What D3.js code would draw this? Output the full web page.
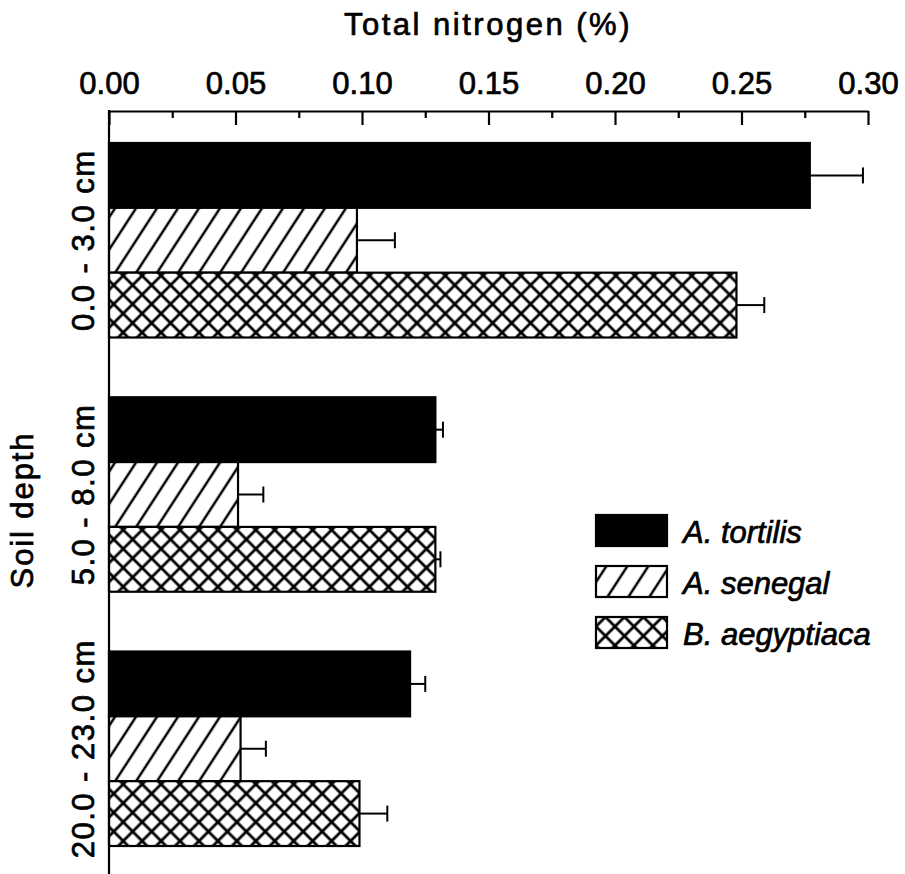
<!DOCTYPE html>
<head>
  <meta charset="utf-8">
  <script src="https://cdn.jsdelivr.net/npm/d3@7"></script>
  <style>
    body { margin: 0; background: #fff; }
    text { font-family: "Liberation Sans", Arial, sans-serif; fill: #000; stroke: #000; stroke-width: 0.7px; }
  </style>
</head>
<body>
<script>

var depths = ["0.0 - 3.0 cm", "5.0 - 8.0 cm", "20.0 - 23.0 cm"]
var species = ["A. tortilis", "A. senegal", "B. aegyptiaca"]
// mean total N (%) per depth, one array per species
var tortilis = [0.277, 0.129, 0.119]
var senegal = [0.098, 0.051, 0.052]
var aegyptiaca = [0.248, 0.129, 0.099]
// standard errors
var tortilisErr = [0.021, 0.003, 0.006]
var senegalErr = [0.015, 0.010, 0.010]
var aegyptiacaErr = [0.011, 0.002, 0.011]
var majorTicks = [0, 0.05, 0.10, 0.15, 0.20, 0.25, 0.30]
var minorTicks = [0.025, 0.075, 0.125, 0.175, 0.225, 0.275]

var means = [tortilis, senegal, aegyptiaca]
var errs = [tortilisErr, senegalErr, aegyptiacaErr]
var fills = ["#000", "url(#hatch)", "url(#cross)"]

var width = 905, height = 874

var svg = d3.select("body").append("svg")
    .attr("width", width)
    .attr("height", height)

var defs = svg.append("defs")

var hatch = defs.append("pattern")
    .attr("id", "hatch")
    .attr("patternUnits", "userSpaceOnUse")
    .attr("width", 17.6).attr("height", 17.6)
    .attr("patternTransform", "rotate(-57)")
hatch.append("rect").attr("width", 17.6).attr("height", 17.6).attr("fill", "#fff")
hatch.append("line")
    .attr("x1", 0).attr("x2", 17.6).attr("y1", 8.8).attr("y2", 8.8)
    .attr("stroke", "#000").attr("stroke-width", 2.5)

var cross = defs.append("pattern")
    .attr("id", "cross")
    .attr("patternUnits", "userSpaceOnUse")
    .attr("width", 13.4).attr("height", 13.4)
    .attr("patternTransform", "rotate(45)")
cross.append("rect").attr("width", 13.4).attr("height", 13.4).attr("fill", "#fff")
cross.append("line")
    .attr("x1", 0).attr("x2", 13.4).attr("y1", 6.7).attr("y2", 6.7)
    .attr("stroke", "#000").attr("stroke-width", 2.8)
cross.append("line")
    .attr("x1", 6.7).attr("x2", 6.7).attr("y1", 0).attr("y2", 13.4)
    .attr("stroke", "#000").attr("stroke-width", 2.8)

var x = d3.scaleLinear()
    .domain([0, 0.3])
    .range([109, 868])

var y = d3.scaleBand()
    .domain(depths)
    .range([113, 876])
    .paddingInner(0.235)
    .paddingOuter(0.118)

var yInner = d3.scaleBand()
    .domain(species)
    .range([0, y.bandwidth()])

// bars
var groups = svg.selectAll("g.depth")
    .data(depths)
    .enter()
    .append("g")
    .attr("class", "depth")
    .attr("transform", function(d) { return "translate(0," + y(d) + ")" })

groups.each(function(depth, di) {
  var g = d3.select(this)
  var rows = species.map(function(s, si) {
    return { sp: s, v: means[si][di], e: errs[si][di], fill: fills[si] }
  })

  g.selectAll("rect")
    .data(rows)
    .enter()
    .append("rect")
    .attr("x", x(0))
    .attr("y", function(d) { return yInner(d.sp) })
    .attr("width", function(d) { return x(d.v) - x(0) })
    .attr("height", yInner.bandwidth())
    .attr("fill", function(d) { return d.fill })
    .attr("stroke", "#000")
    .attr("stroke-width", 2.2)

  var eb = g.selectAll("g.err")
    .data(rows)
    .enter()
    .append("g")
    .attr("class", "err")
    .attr("stroke", "#000")
    .attr("stroke-width", 2)

  eb.append("line")
    .attr("x1", function(d) { return x(d.v) })
    .attr("x2", function(d) { return x(d.v + d.e) })
    .attr("y1", function(d) { return yInner(d.sp) + yInner.bandwidth() / 2 })
    .attr("y2", function(d) { return yInner(d.sp) + yInner.bandwidth() / 2 })

  eb.append("line")
    .attr("x1", function(d) { return x(d.v + d.e) })
    .attr("x2", function(d) { return x(d.v + d.e) })
    .attr("y1", function(d) { return yInner(d.sp) + yInner.bandwidth() / 2 - 8 })
    .attr("y2", function(d) { return yInner(d.sp) + yInner.bandwidth() / 2 + 8 })
})

// top axis, ticks point into the plot
var axisG = svg.append("g").attr("transform", "translate(0,111)")

axisG.call(d3.axisTop(x)
    .tickValues(majorTicks)
    .tickSize(-14)
    .tickSizeOuter(0)
    .tickPadding(17)
    .tickFormat(d3.format(".2f")))

axisG.append("g").call(d3.axisTop(x)
    .tickValues(minorTicks)
    .tickSize(-7)
    .tickFormat(""))
  .select(".domain").remove()

axisG.selectAll("path, line")
    .attr("stroke", "#000")
    .attr("stroke-width", 2.2)
axisG.selectAll("text")
    .style("font-size", "31px")
    .attr("fill", "#000")

// left axis line
svg.append("line")
    .attr("x1", x(0)).attr("x2", x(0))
    .attr("y1", 110).attr("y2", 874)
    .attr("stroke", "#000")
    .attr("stroke-width", 2.2)

// depth labels
svg.selectAll("text.depthLabel")
    .data(depths)
    .enter()
    .append("text")
    .attr("class", "depthLabel")
    .attr("transform", function(d) {
      return "translate(94," + (y(d) + y.bandwidth() / 2) + ") rotate(-90)"
    })
    .attr("text-anchor", "middle")
    .style("font-size", "31px")
    .style("letter-spacing", "1.5px")
    .text(function(d) { return d })

// axis titles
svg.append("text")
    .attr("x", 488)
    .attr("y", 35)
    .attr("text-anchor", "middle")
    .style("font-size", "31px")
    .style("letter-spacing", "2.5px")
    .text("Total nitrogen (%)")

svg.append("text")
    .attr("transform", "translate(33,510) rotate(-90)")
    .attr("text-anchor", "middle")
    .style("font-size", "31px")
    .style("letter-spacing", "1.9px")
    .text("Soil depth")

// legend
var legend = svg.selectAll("g.legend")
    .data(species)
    .enter()
    .append("g")
    .attr("class", "legend")
    .attr("transform", function(d, i) { return "translate(596," + (515 + i * 51) + ")" })

legend.append("rect")
    .attr("width", 71)
    .attr("height", 31)
    .attr("fill", function(d, i) { return fills[i] })
    .attr("stroke", "#000")
    .attr("stroke-width", 2.2)

legend.append("text")
    .attr("x", 87)
    .attr("y", 28)
    .style("font-size", "31px")
    .style("font-style", "italic")
    .text(function(d) { return d })

</script>
</body>
